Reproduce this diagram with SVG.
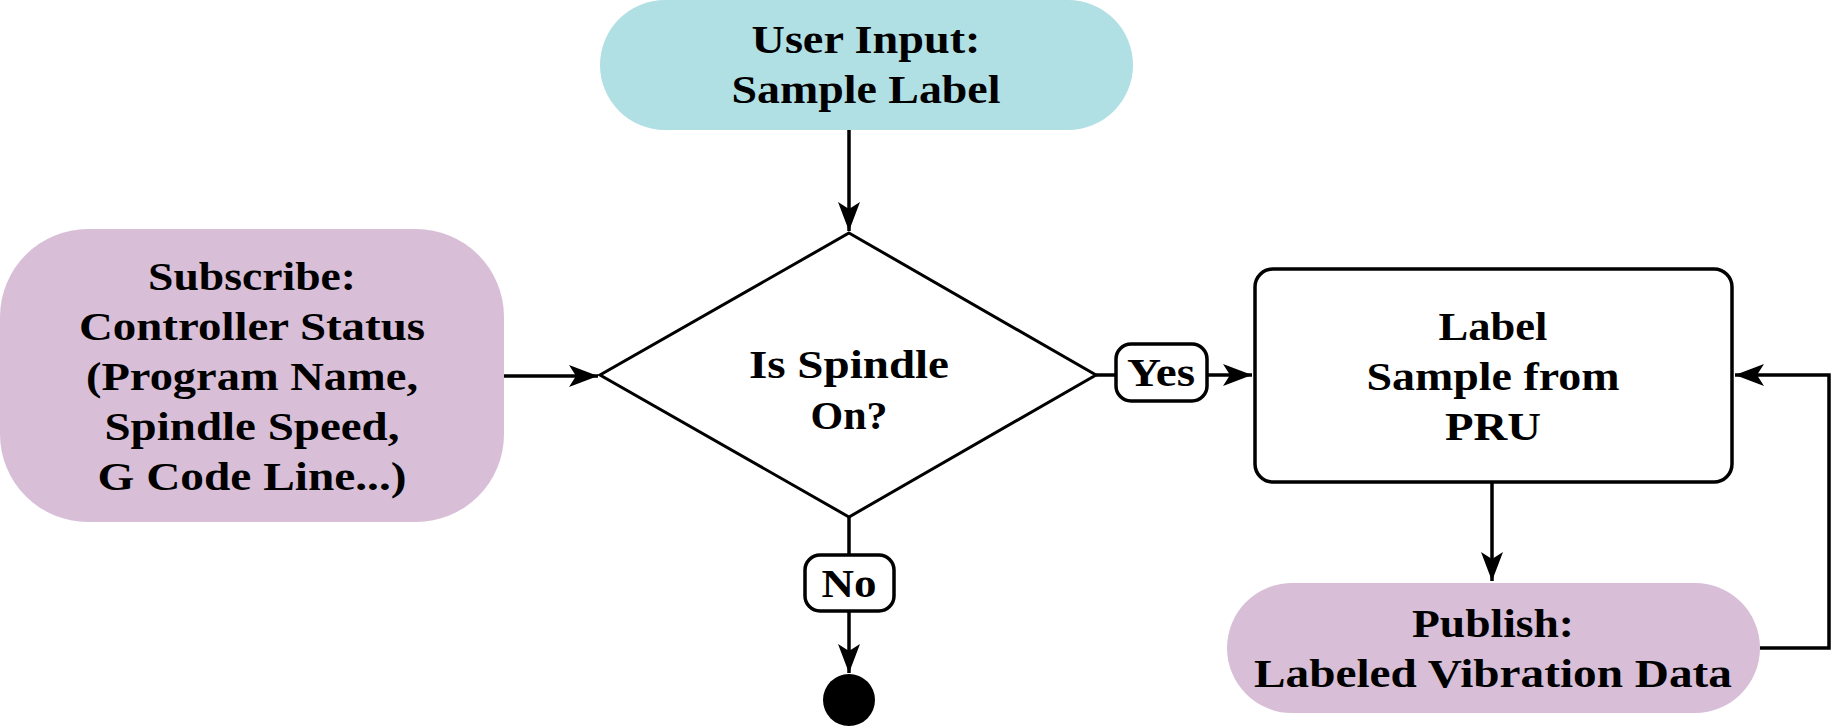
<svg xmlns="http://www.w3.org/2000/svg" width="1832" height="727" viewBox="0 0 1832 727">
<defs>
<style>
text{font-family:'Liberation Serif','DejaVu Serif',serif;font-weight:700;font-size:41px;fill:#000;text-anchor:middle}
.ln{fill:none;stroke:#000;stroke-width:3.5}
.teal{fill:#B0DFE4}
.purp{fill:#D8BED7}
.box{fill:#fff;stroke:#000;stroke-width:3.5}
</style>
<marker id="ah" viewBox="-31 -12 32 24" refX="0" refY="0" markerWidth="32" markerHeight="24" markerUnits="userSpaceOnUse" orient="auto">
<path d="M0,0 L-29,-11 L-22,0 L-29,11 Z" fill="#000"/>
</marker>
</defs>
<rect width="1832" height="727" fill="#fff"/>
<g id="connectors">
<path class="ln" d="M849,130 V231" marker-end="url(#ah)"/>
<path class="ln" d="M504,376 H598" marker-end="url(#ah)"/>
<path class="ln" d="M1096,375 H1115"/>
<path class="ln" d="M1207,375 H1252" marker-end="url(#ah)"/>
<path class="ln" d="M849,517 V556"/>
<path class="ln" d="M849,611 V673" marker-end="url(#ah)"/>
<path class="ln" d="M1492,483 V581" marker-end="url(#ah)"/>
<path class="ln" d="M1760,648 H1829 V375 H1735" marker-end="url(#ah)"/>
</g>
<g id="user-input">
<rect class="teal" x="600" y="0" width="533" height="130" rx="65" ry="65"/>
<text x="866" y="53" textLength="229" lengthAdjust="spacingAndGlyphs" font-family="Liberation Serif">User Input:</text>
<text x="866" y="103" textLength="269" lengthAdjust="spacingAndGlyphs" font-family="Liberation Serif">Sample Label</text>
</g>
<g id="subscribe">
<rect class="purp" x="0" y="229" width="504" height="293" rx="88" ry="88"/>
<text x="252" y="290" textLength="208" lengthAdjust="spacingAndGlyphs">Subscribe:</text>
<text x="252" y="340" textLength="346" lengthAdjust="spacingAndGlyphs">Controller Status</text>
<text x="252" y="390" textLength="332" lengthAdjust="spacingAndGlyphs">(Program Name,</text>
<text x="252" y="440" textLength="295" lengthAdjust="spacingAndGlyphs">Spindle Speed,</text>
<text x="252" y="490" textLength="309" lengthAdjust="spacingAndGlyphs">G Code Line...)</text>
</g>
<g id="decision">
<path class="box" style="stroke-width:3" d="M849,233 L1096,375 L849,517 L600,375 Z"/>
<text x="849" y="378" textLength="200" lengthAdjust="spacingAndGlyphs">Is Spindle</text>
<text x="849" y="429" textLength="77" lengthAdjust="spacingAndGlyphs">On?</text>
</g>
<g id="yes-label">
<rect class="box" x="1116" y="344" width="91" height="57" rx="15" ry="15"/>
<text x="1161" y="386" textLength="68" lengthAdjust="spacingAndGlyphs">Yes</text>
</g>
<g id="no-label">
<rect class="box" x="805" y="555" width="89" height="56" rx="15" ry="15"/>
<text x="849" y="597" textLength="55" lengthAdjust="spacingAndGlyphs">No</text>
</g>
<g id="end">
<circle cx="849" cy="700" r="26" fill="#000"/>
</g>
<g id="label-sample">
<rect class="box" x="1255" y="269" width="477" height="213" rx="18" ry="18"/>
<text x="1493" y="340" textLength="109" lengthAdjust="spacingAndGlyphs">Label</text>
<text x="1493" y="390" textLength="253" lengthAdjust="spacingAndGlyphs">Sample from</text>
<text x="1493" y="440" textLength="96" lengthAdjust="spacingAndGlyphs">PRU</text>
</g>
<g id="publish">
<rect class="purp" x="1227" y="583" width="533" height="130" rx="65" ry="65"/>
<text x="1493" y="637" textLength="162" lengthAdjust="spacingAndGlyphs">Publish:</text>
<text x="1493" y="687" textLength="478" lengthAdjust="spacingAndGlyphs">Labeled Vibration Data</text>
</g>
</svg>
